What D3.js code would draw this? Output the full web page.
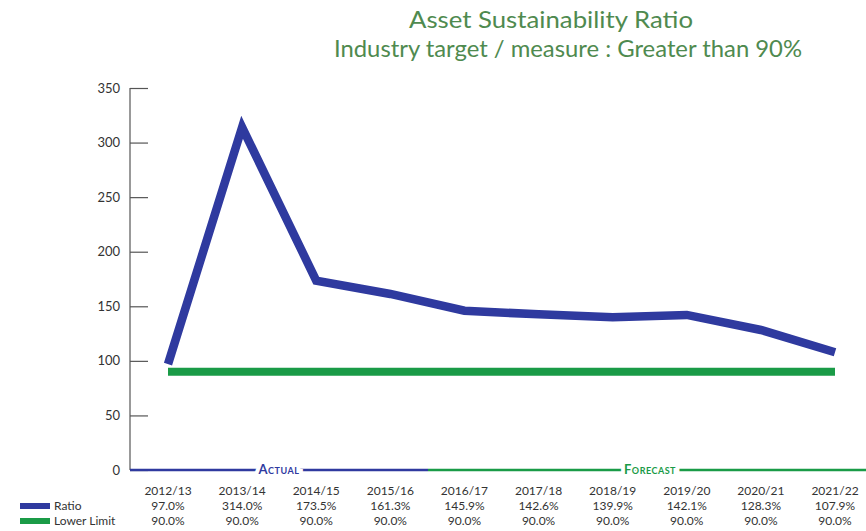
<!DOCTYPE html>
<html>
<head>
<meta charset="utf-8">
<script src="https://cdn.jsdelivr.net/npm/d3@7"></script>
<style>
html,body{margin:0;padding:0;background:#fff;}
svg{display:block;}
</style>
</head>
<body>
<svg id="chart" width="866" height="531"></svg>
<script>
const categories = ["2012/13","2013/14","2014/15","2015/16","2016/17","2017/18","2018/19","2019/20","2020/21","2021/22"];
const ratioValues = [97.0, 314.0, 173.5, 161.3, 145.9, 142.6, 139.9, 142.1, 128.3, 107.9];
const lowerLimitValues = [90.0, 90.0, 90.0, 90.0, 90.0, 90.0, 90.0, 90.0, 90.0, 90.0];
const yTicks = [0, 50, 100, 150, 200, 250, 300, 350];
const seriesNames = ["Ratio", "Lower Limit"];
const periodLabels = ["Actual", "Forecast"];
const titleLines = ["Asset Sustainability Ratio", "Industry target / measure : Greater than 90%"];

const blue = "#2f3a9f";
const green = "#1a9b47";
const titleColor = "#4f8a4f";
const textColor = "#333";
const font = "Lato, 'Open Sans', sans-serif";

const svg = d3.select("#chart");

const x = d3.scalePoint().domain(categories).range([168, 835]);
const y = d3.scaleLinear().domain([0, 350]).range([470, 88]);

// title
const titleCx = [551, 568];
svg.selectAll("text.title").data(titleLines).enter().append("text")
  .attr("class","title")
  .attr("x", (d,i) => titleCx[i]).attr("y", (d,i) => 28 + i*29)
  .attr("text-anchor","middle")
  .attr("font-family", font).attr("font-size", 23)
  .attr("fill", titleColor)
  .attr("textLength", (d,i) => i === 0 ? 284 : 468)
  .attr("lengthAdjust", "spacingAndGlyphs")
  .text(d => d);

// y axis
const yAxis = d3.axisRight(y).tickValues(yTicks).tickSize(18).tickFormat("");
const gy = svg.append("g").attr("transform","translate(130,0)").call(yAxis);
gy.select(".domain").attr("stroke","#555").attr("stroke-width",1.2).attr("d","M0,88V470");
gy.selectAll(".tick line").attr("stroke","#555").attr("stroke-width",1.2);
svg.selectAll("text.ytick").data(yTicks).enter().append("text")
  .attr("class","ytick")
  .attr("x", 120).attr("y", d => y(d) + 4.5)
  .attr("text-anchor","end")
  .attr("font-family", font).attr("font-size", 13)
  .attr("fill", textColor)
  .text(d => d);

// bottom period lines
const periods = [
  {label: periodLabels[0], x0: 130, x1: 428, color: blue},
  {label: periodLabels[1], x0: 428, x1: 866, color: green}
];
periods.forEach(p => {
  svg.append("line").attr("x1", p.x0).attr("x2", p.x1).attr("y1", 470).attr("y2", 470)
    .attr("stroke", p.color).attr("stroke-width", 2.5);
  const cx = p.label === "Forecast" ? 650 : 279;
  svg.append("text")
    .attr("x", cx).attr("y", 474)
    .attr("text-anchor","middle")
    .attr("font-family", font).attr("font-size", 13).attr("font-weight","bold")
    .attr("fill", p.color)
    .attr("letter-spacing", 0.5)
    .style("font-variant","small-caps")
    .attr("paint-order","stroke").attr("stroke","#fff").attr("stroke-width",8)
    .text(p.label);
});

// lines
const lineGen = d3.line().x((d,i) => x(categories[i])).y(d => y(d));
svg.append("path").datum(lowerLimitValues)
  .attr("d", lineGen).attr("fill","none")
  .attr("stroke", green).attr("stroke-width", 8).attr("stroke-linejoin","round");
svg.append("path").datum(ratioValues)
  .attr("d", lineGen).attr("fill","none")
  .attr("stroke", blue).attr("stroke-width", 8.5).attr("stroke-linejoin","miter").attr("stroke-miterlimit", 10);

// data table
const rows = [
  {vals: categories},
  {vals: ratioValues.map(v => v.toFixed(1) + "%")},
  {vals: lowerLimitValues.map(v => v.toFixed(1) + "%")}
];
rows.forEach((r, ri) => {
  svg.selectAll("text.row" + ri).data(r.vals).enter().append("text")
    .attr("class","row" + ri)
    .attr("x", (d,i) => x(categories[i]))
    .attr("y", 495 + ri*15)
    .attr("text-anchor","middle")
    .attr("font-family", font).attr("font-size", 12)
    .attr("fill", textColor)
    .text(d => d);
});

// legend
const legendColors = [blue, green];
seriesNames.forEach((n, i) => {
  const yy = 506 + i*15;
  svg.append("rect").attr("x", 20).attr("y", yy - 3).attr("width", 30).attr("height", 6).attr("fill", legendColors[i]);
  svg.append("text").attr("x", 54).attr("y", yy + 4)
    .attr("font-family", font).attr("font-size", 12)
    .attr("fill", textColor).text(n);
});
</script>
</body>
</html>
